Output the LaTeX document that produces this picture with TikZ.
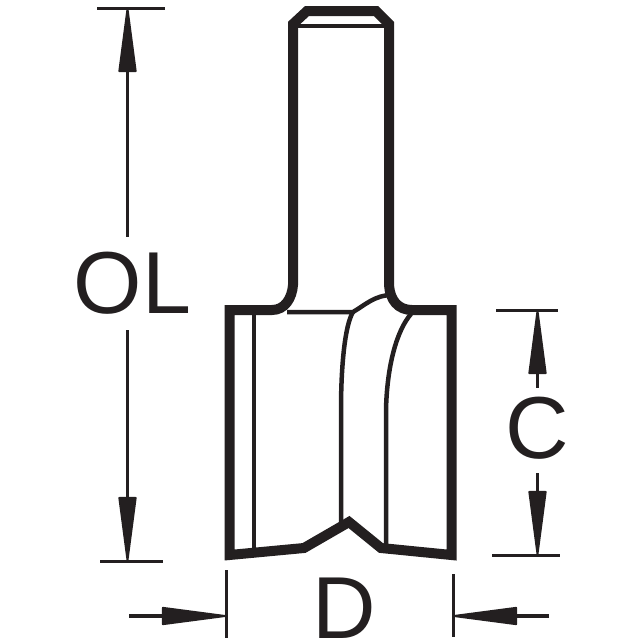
\documentclass[tikz,border=0pt]{standalone}
\usepackage{xcolor}
\usepackage{fontspec}
\setmainfont{Liberation Sans}
\usetikzlibrary{arrows.meta}
\definecolor{inkblack}{HTML}{231F20}
\tikzset{
  outline/.style={draw=inkblack, line width=10pt, miter limit=10},
  flute/.style={draw=inkblack, line width=4.5pt},
  dimtick/.style={draw=inkblack, line width=3pt},
  dimarrow/.style={draw=inkblack, line width=3.2pt, -{Triangle[length=71pt,width=18pt,line width=2pt,round]}},
  dimlabel/.style={inner sep=0pt, anchor=base, text=inkblack, font=\fontsize{88}{88}\selectfont}
}
\begin{document}
\begin{tikzpicture}[x=1pt, y=-1pt]
\useasboundingbox (0,0) rectangle (640,640);

% cutter
\draw[outline] (272,310) -- (229.5,310) -- (229.5,555) -- (304,548) -- (349,522) -- (381,548) -- (451.5,555) -- (451.5,310) -- (412,310) .. controls (398,310) and (390,300) .. (389,285) -- (389,24) -- (376,11) -- (307,11) -- (293,24) -- (293,285) .. controls (292,298) and (285,310) .. (272,310) -- cycle;
\draw[flute] (293,26) -- (389,26);
\draw[flute] (287,312) -- (353,312) .. controls (365,305) and (375,295) .. (392,295);
\draw[flute] (353,312) .. controls (345,325) and (341,365) .. (341,410) -- (341,522);
\draw[flute] (411,314) .. controls (397,330) and (387,365) .. (386,410) -- (386,546);
\draw[flute] (254,312) -- (254,549);

% labels
\node[dimlabel, text height=76pt, text depth=17pt] (OL) at (132.5,313) {OL};
\node[dimlabel, text height=70pt, text depth=15pt] (C) at (537,458) {C};
\node[dimlabel] (D) at (344,638) {D};

% ticks
\draw[dimtick] (97,8) -- (165,8);
\draw[dimtick] (100,561) -- (163,561);
\draw[dimtick] (496,310) -- (558,310);
\draw[dimtick] (492,555) -- (560,555);
\draw[dimtick] (226,570) -- (226,638);
\draw[dimtick] (453,574) -- (453,637);

% arrows
\coordinate (oltop) at (127.5,8);
\coordinate (olbot) at (127.5,561);
\coordinate (ctop) at (537.5,310);
\coordinate (cbot) at (537.5,555);
\coordinate (dltail) at (129,616);
\coordinate (dltip) at (226,616);
\coordinate (drtail) at (549,616);
\coordinate (drtip) at (453,616);
\draw[dimarrow] (OL.north -| oltop) -- (oltop);
\draw[dimarrow] (OL.south -| olbot) -- (olbot);
\draw[dimarrow] (C.north -| ctop) -- (ctop);
\draw[dimarrow] (C.south -| cbot) -- (cbot);
\draw[dimarrow] (dltail) -- (dltip);
\draw[dimarrow] (drtail) -- (drtip);
\end{tikzpicture}
\end{document}
